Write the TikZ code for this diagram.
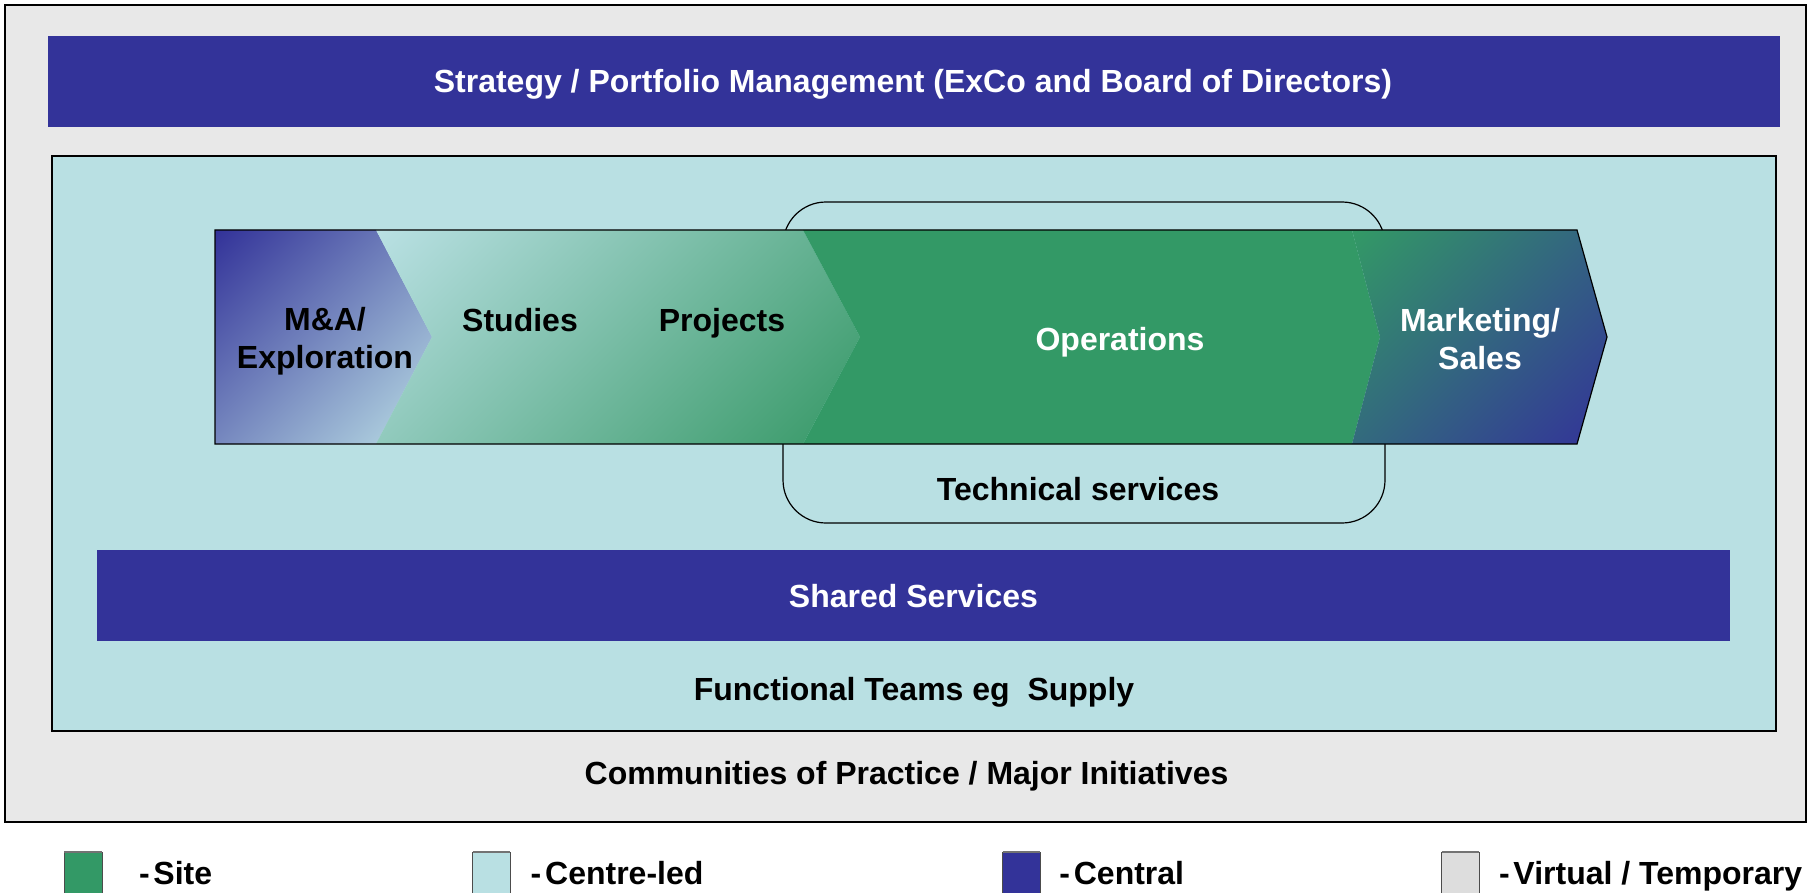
\documentclass[tikz,border=0pt]{standalone}
\usepackage{fontspec}
\setmainfont{Liberation Sans}
\definecolor{bgGray}{RGB}{232,232,232}
\definecolor{cBlue}{RGB}{51,51,153}
\definecolor{cTeal}{RGB}{185,224,227}
\definecolor{cGreen}{RGB}{51,153,102}
\definecolor{cProj}{RGB}{54,152,102}
\definecolor{cLight}{RGB}{221,221,221}
\definecolor{maLight}{RGB}{186,222,229}
\pgfdeclareverticalshading{maShade}{100bp}{color(0bp)=(maLight); color(15bp)=(maLight); color(85bp)=(cBlue); color(100bp)=(cBlue)}
\pgfdeclareverticalshading{spShade}{100bp}{color(0bp)=(cProj); color(15bp)=(cProj); color(85bp)=(cTeal); color(100bp)=(cTeal)}
\pgfdeclareverticalshading{mkShade}{100bp}{color(0bp)=(cBlue); color(15bp)=(cBlue); color(85bp)=(cGreen); color(100bp)=(cGreen)}
\newcommand{\lnst}{\rule[-0.21em]{0pt}{0.94em}}
\tikzset{
  lbl/.style={font=\bfseries\fontsize{16}{19}\selectfont, align=center, inner sep=0pt},
  blk/.style={lbl, text=black},
  wht/.style={lbl, text=white},
  legtxt/.style={font=\bfseries\fontsize{16}{19}\selectfont, inner sep=0pt, anchor=west, text=black},
  swline/.style={draw=black!70, line width=0.5pt},
  swtop/.style={draw=black!55, line width=1.1pt},
}
\begin{document}
\begin{tikzpicture}[x=0.5pt,y=-0.5pt]
\useasboundingbox (0,0) rectangle (1813,893);
% outer virtual / temporary frame
\fill[bgGray] (5,5) rectangle (1806,822);
\draw[line width=1.2pt, black] (5,5) rectangle (1806,822);
% strategy bar
\fill[cBlue] (48,36) rectangle (1780,127);
\node[wht] (strategy) at (913,84.7) {\lnst Strategy / Portfolio Management (ExCo and Board of Directors)};
% centre-led box
\draw[line width=1pt, fill=cTeal] (52,156) rectangle (1776,731);
% technical services rounded box
\draw[line width=0.6pt, rounded corners=21.5pt] (783,202) rectangle (1385,523);
% value chain segments
\shade[shading=maShade, shading angle=45]
  (215,230) -- (376,230) -- (432,337) -- (376,444) -- (215,444) -- cycle;
\shade[shading=spShade, shading angle=45]
  (376,230) -- (803,230) -- (860,337) -- (803,444) -- (376,444) -- (432,337) -- cycle;
\fill[cGreen]
  (803,230) -- (1352,230) -- (1380,337) -- (1352,444) -- (803,444) -- (860,337) -- cycle;
\shade[shading=mkShade, shading angle=45]
  (1352,230) -- (1577,230) -- (1607,337) -- (1577,444) -- (1352,444) -- (1380,337) -- cycle;
\draw[line width=0.6pt] (215,230) -- (1577,230) -- (1607,337) -- (1577,444) -- (215,444) -- cycle;
% chain labels
\node[blk] (ma) at (325,341.2) {\lnst M\&A/\\\lnst Exploration};
\node[blk] (studies) at (520,323.2) {\lnst Studies};
\node[blk] (projects) at (722,323.2) {\lnst Projects};
\node[wht] (operations) at (1120,341.7) {\lnst Operations};
\node[wht] (marketing) at (1480,342.2) {\lnst Marketing/\\\lnst Sales};
\node[blk] (tech) at (1078,492.2) {\lnst Technical services};
% shared services bar
\fill[cBlue] (97,550) rectangle (1730,641);
\node[wht] (shared) at (913.5,598.7) {\lnst Shared Services};
\node[blk] (functional) at (914,692.2) {\lnst Functional Teams eg\ \ Supply};
\node[blk] (communities) at (906.5,775.7) {\lnst Communities of Practice / Major Initiatives};
% legend
\fill[cGreen] (64,852) rectangle (102,893);
\draw[swline] (64,893) -- (64,852) -- (102,852) -- (102,893);
\draw[swtop] (64,852) -- (102,852);
\node[legtxt] (legsite) at (138.6,875.7) {\lnst -\kern0.12em Site};
\fill[cTeal] (472.7,852) rectangle (510.3,893);
\draw[swline] (472.7,893) -- (472.7,852) -- (510.3,852) -- (510.3,893);
\draw[swtop] (472.7,852) -- (510.3,852);
\node[legtxt] (legcentre) at (530.3,875.7) {\lnst -\kern0.12em Centre-led};
\fill[cBlue] (1002.5,852) rectangle (1040,893);
\draw[swline] (1002.5,893) -- (1002.5,852) -- (1040,852) -- (1040,893);
\draw[swtop] (1002.5,852) -- (1040,852);
\node[legtxt] (legcentral) at (1059,875.7) {\lnst -\kern0.12em Central};
\fill[cLight] (1441.7,852) rectangle (1479.3,893);
\draw[swline] (1441.7,893) -- (1441.7,852) -- (1479.3,852) -- (1479.3,893);
\draw[swtop] (1441.7,852) -- (1479.3,852);
\node[legtxt] (legvirtual) at (1498.6,875.7) {\lnst -\kern0.12em Virtual / Temporary};
\end{tikzpicture}
\end{document}
